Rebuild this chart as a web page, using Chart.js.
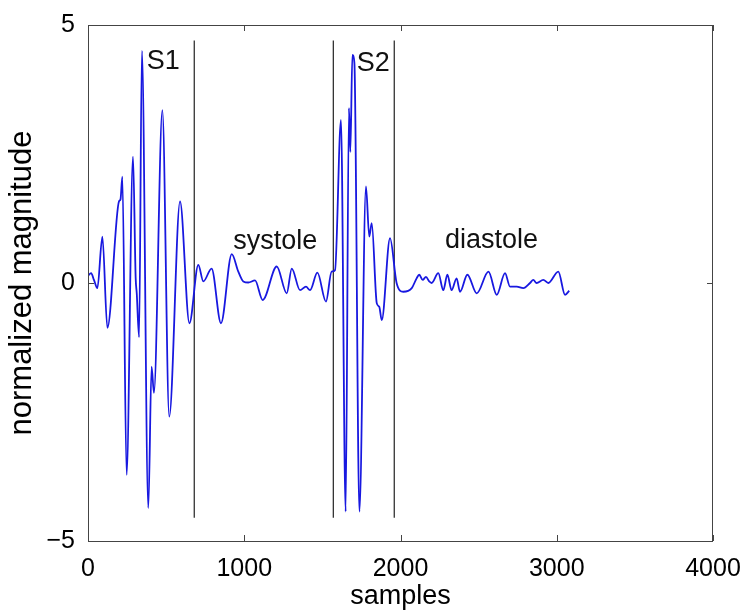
<!DOCTYPE html>
<html lang="en">
<head>
  <meta charset="UTF-8" />
  <title>Heart sound segmentation</title>
  <script src="https://cdn.jsdelivr.net/npm/chart.js"></script>
  <style>
    body { margin: 0; background: #fff; }
    .wrap { width: 742px; height: 610px; position: relative; }
  </style>
</head>
<body>
  <div class="wrap"><canvas id="pcg"></canvas></div>

  <script>
    // signal (sample index -> normalized magnitude)
    const sampleIdx = [0, 20, 38, 60, 92, 124, 198, 208, 220, 247, 288, 305, 312, 327, 345, 386, 407, 422, 476, 520,
      589, 649, 706, 738, 791, 851, 920, 962, 994, 1026, 1069, 1118, 1208, 1272, 1304, 1357, 1395, 1421, 1468, 1523,
      1559, 1581, 1619, 1649, 1670, 1679, 1692, 1705, 1737, 1779, 1800, 1816, 1848, 1864, 1880, 1933, 1975, 2018, 2072, 2103,
      2120, 2142, 2163, 2184, 2199, 2242, 2274, 2300, 2327, 2359, 2381, 2428, 2488, 2563, 2616, 2669, 2701, 2744, 2786, 2829,
      2850, 2871, 2914, 2946, 3010, 3053, 3080];
    const magnitude = [0.14, 0.19, 0.06, -0.10, 0.90, -0.87, 1.58, 1.62, 2.06, -3.72, 2.45, 0.10, -0.20, -1.05, 4.50, -4.36, -1.62, -2.13, 3.35, -2.59,
      1.58, -0.78, 0.35, 0.03, 0.28, -0.78, 0.56, 0.22, 0.03, 0.01, 0.05, -0.33, 0.32, -0.20, 0.28, -0.14, -0.07, -0.14, 0.20, -0.36,
      0.22, 0.25, 3.16, -4.43, 3.39, 2.54, 4.42, 4.26, -4.43, 1.87, 0.90, 1.16, -0.39, -0.46, -0.72, 0.87, 0.00, -0.17, -0.10, 0.09,
      0.16, 0.06, 0.12, 0.03, 0.00, 0.19, -0.14, 0.16, -0.14, 0.09, -0.17, 0.16, -0.20, 0.22, -0.23, 0.19, -0.07, -0.07, -0.10, 0.00,
      0.06, 0.00, 0.06, 0.00, 0.22, -0.23, -0.15];

    const xTicks = [0, 1000, 2000, 3000, 4000];
    const yTicks = [-5, 0, 5];

    // segment boundaries
    const boundaries = [680, 1570, 1960];
    const boundaryTop = 4.7;
    const boundaryBottom = -4.55;

    const notes = ['S1', 'S2', 'systole', 'diastole'];
    const noteX = [376, 1720, 930, 2285];
    const noteY = [4.3, 4.26, 0.8, 0.83];

    const FONT = '"Liberation Sans", Arial, sans-serif';

    const signal = sampleIdx.map((s, i) => ({ x: s, y: magnitude[i] }));
    const boundarySets = boundaries.map(b => ({
      data: [{ x: b, y: boundaryTop }, { x: b, y: boundaryBottom }],
      borderColor: '#222',
      borderWidth: 1.2,
      pointRadius: 0
    }));

    // MATLAB-like box with inward ticks, plus text notes
    const frame = {
      id: 'frame',
      afterDatasetsDraw(chart) {
        const { ctx, chartArea: a, scales: { x, y } } = chart;
        ctx.save();
        ctx.strokeStyle = '#444';
        ctx.lineWidth = 1;
        ctx.strokeRect(a.left + 0.5, a.top + 0.5, a.right - a.left - 1, a.bottom - a.top);
        ctx.beginPath();
        xTicks.forEach(v => {
          const px = Math.round(x.getPixelForValue(v)) + 0.5;
          ctx.moveTo(px, a.bottom); ctx.lineTo(px, a.bottom - 6);
          ctx.moveTo(px, a.top); ctx.lineTo(px, a.top + 6);
        });
        yTicks.forEach(v => {
          const py = Math.round(y.getPixelForValue(v)) + 0.5;
          ctx.moveTo(a.left, py); ctx.lineTo(a.left + 6, py);
          ctx.moveTo(a.right, py); ctx.lineTo(a.right - 6, py);
        });
        ctx.stroke();

        ctx.fillStyle = '#111';
        ctx.font = '27px ' + FONT;
        ctx.textAlign = 'left';
        ctx.textBaseline = 'middle';
        notes.forEach((t, i) => {
          ctx.fillText(t, x.getPixelForValue(noteX[i]), y.getPixelForValue(noteY[i]));
        });
        ctx.restore();
      }
    };

    new Chart(document.getElementById('pcg'), {
      type: 'line',
      data: {
        datasets: [
          {
            data: signal,
            borderColor: '#1818e0',
            borderWidth: 1.8,
            pointRadius: 0,
            cubicInterpolationMode: 'monotone'
          },
          ...boundarySets
        ]
      },
      options: {
        animation: false,
        responsive: true,
        maintainAspectRatio: false,
        layout: { padding: { top: 25, right: 29, left: 0, bottom: 0 } },
        plugins: { legend: { display: false }, tooltip: { enabled: false } },
        scales: {
          x: {
            type: 'linear',
            min: 0,
            max: 4000,
            afterBuildTicks: s => { s.ticks = xTicks.map(v => ({ value: v })); },
            afterFit: s => { s.height = 69; s.paddingLeft = 0; s.paddingRight = 0; },
            grid: { display: false },
            border: { display: false },
            ticks: {
              color: '#000',
              padding: 5,
              maxRotation: 0,
              font: { family: FONT, size: 25 },
              callback: v => String(v)
            },
            title: {
              display: true,
              text: 'samples',
              color: '#000',
              padding: 0,
              font: { family: FONT, size: 27, lineHeight: 1 }
            }
          },
          y: {
            min: -5,
            max: 5,
            afterBuildTicks: s => { s.ticks = yTicks.map(v => ({ value: v })); },
            afterFit: s => { s.width = 88; s.paddingTop = 0; s.paddingBottom = 0; },
            grid: { display: false },
            border: { display: false },
            ticks: {
              color: '#000',
              padding: 5,
              font: { family: FONT, size: 25 },
              callback: v => String(v).replace('-', '\u2212')
            },
            title: {
              display: true,
              text: 'normalized magnitude',
              color: '#000',
              padding: { top: 4, bottom: 0 },
              font: { family: FONT, size: 31 }
            }
          }
        }
      },
      plugins: [frame]
    });
  </script>
</body>
</html>
